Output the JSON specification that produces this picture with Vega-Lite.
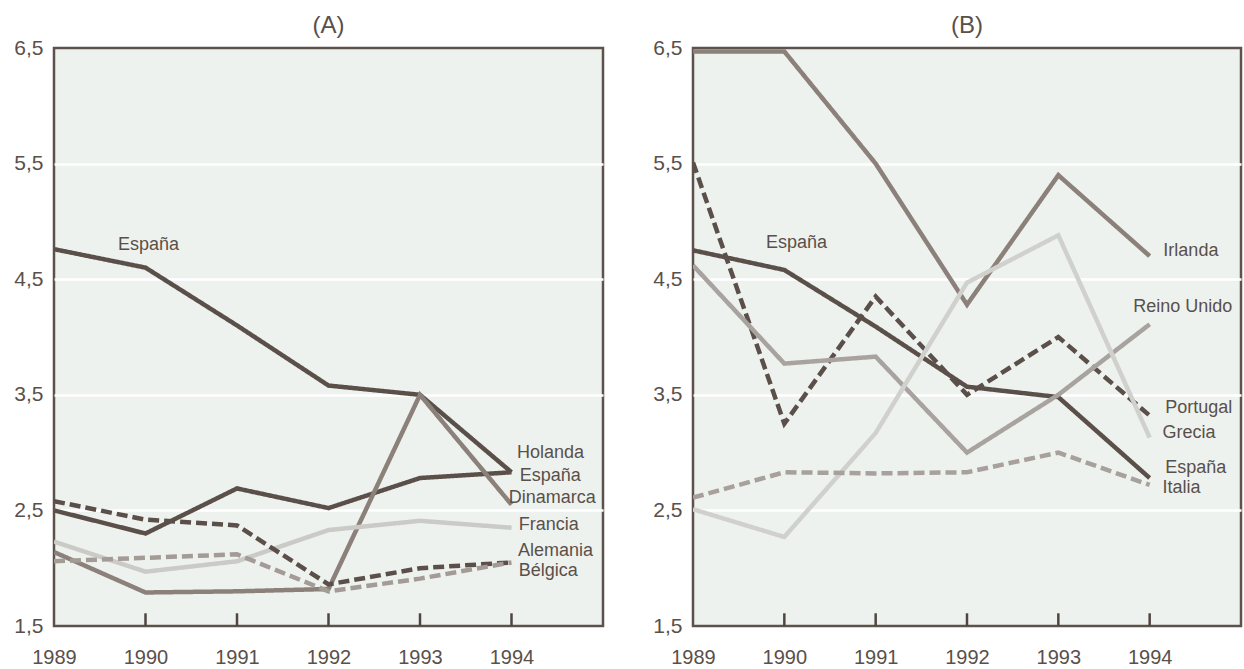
{
  "$schema": "https://vega.github.io/schema/vega-lite/v6.json",
  "padding": {"left": 12, "top": 12, "right": 0, "bottom": 0},
  "background": "white",
  "spacing": 46,
  "datasets": {
    "series": [
      {"panel": "A", "country": "España", "year": 1989, "value": 4.76},
      {"panel": "A", "country": "España", "year": 1990, "value": 4.60},
      {"panel": "A", "country": "España", "year": 1991, "value": 4.10},
      {"panel": "A", "country": "España", "year": 1992, "value": 3.58},
      {"panel": "A", "country": "España", "year": 1993, "value": 3.50},
      {"panel": "A", "country": "España", "year": 1994, "value": 2.83},
      {"panel": "A", "country": "Holanda", "year": 1989, "value": 2.50},
      {"panel": "A", "country": "Holanda", "year": 1990, "value": 2.30},
      {"panel": "A", "country": "Holanda", "year": 1991, "value": 2.69},
      {"panel": "A", "country": "Holanda", "year": 1992, "value": 2.52},
      {"panel": "A", "country": "Holanda", "year": 1993, "value": 2.78},
      {"panel": "A", "country": "Holanda", "year": 1994, "value": 2.83},
      {"panel": "A", "country": "Dinamarca", "year": 1989, "value": 2.14},
      {"panel": "A", "country": "Dinamarca", "year": 1990, "value": 1.79},
      {"panel": "A", "country": "Dinamarca", "year": 1991, "value": 1.80},
      {"panel": "A", "country": "Dinamarca", "year": 1992, "value": 1.82},
      {"panel": "A", "country": "Dinamarca", "year": 1993, "value": 3.50},
      {"panel": "A", "country": "Dinamarca", "year": 1994, "value": 2.55},
      {"panel": "A", "country": "Francia", "year": 1989, "value": 2.23},
      {"panel": "A", "country": "Francia", "year": 1990, "value": 1.97},
      {"panel": "A", "country": "Francia", "year": 1991, "value": 2.06},
      {"panel": "A", "country": "Francia", "year": 1992, "value": 2.33},
      {"panel": "A", "country": "Francia", "year": 1993, "value": 2.41},
      {"panel": "A", "country": "Francia", "year": 1994, "value": 2.35},
      {"panel": "A", "country": "Alemania", "year": 1989, "value": 2.58},
      {"panel": "A", "country": "Alemania", "year": 1990, "value": 2.42},
      {"panel": "A", "country": "Alemania", "year": 1991, "value": 2.37},
      {"panel": "A", "country": "Alemania", "year": 1992, "value": 1.86},
      {"panel": "A", "country": "Alemania", "year": 1993, "value": 2.00},
      {"panel": "A", "country": "Alemania", "year": 1994, "value": 2.05},
      {"panel": "A", "country": "Bélgica", "year": 1989, "value": 2.06},
      {"panel": "A", "country": "Bélgica", "year": 1990, "value": 2.09},
      {"panel": "A", "country": "Bélgica", "year": 1991, "value": 2.12},
      {"panel": "A", "country": "Bélgica", "year": 1992, "value": 1.80},
      {"panel": "A", "country": "Bélgica", "year": 1993, "value": 1.91},
      {"panel": "A", "country": "Bélgica", "year": 1994, "value": 2.05},
      {"panel": "B", "country": "Irlanda", "year": 1989, "value": 6.47},
      {"panel": "B", "country": "Irlanda", "year": 1990, "value": 6.47},
      {"panel": "B", "country": "Irlanda", "year": 1991, "value": 5.50},
      {"panel": "B", "country": "Irlanda", "year": 1992, "value": 4.28},
      {"panel": "B", "country": "Irlanda", "year": 1993, "value": 5.40},
      {"panel": "B", "country": "Irlanda", "year": 1994, "value": 4.70},
      {"panel": "B", "country": "España", "year": 1989, "value": 4.75},
      {"panel": "B", "country": "España", "year": 1990, "value": 4.58},
      {"panel": "B", "country": "España", "year": 1991, "value": 4.09},
      {"panel": "B", "country": "España", "year": 1992, "value": 3.57},
      {"panel": "B", "country": "España", "year": 1993, "value": 3.48},
      {"panel": "B", "country": "España", "year": 1994, "value": 2.78},
      {"panel": "B", "country": "Portugal", "year": 1989, "value": 5.51},
      {"panel": "B", "country": "Portugal", "year": 1990, "value": 3.25},
      {"panel": "B", "country": "Portugal", "year": 1991, "value": 4.35},
      {"panel": "B", "country": "Portugal", "year": 1992, "value": 3.50},
      {"panel": "B", "country": "Portugal", "year": 1993, "value": 4.00},
      {"panel": "B", "country": "Portugal", "year": 1994, "value": 3.32},
      {"panel": "B", "country": "Reino Unido", "year": 1989, "value": 4.62},
      {"panel": "B", "country": "Reino Unido", "year": 1990, "value": 3.77},
      {"panel": "B", "country": "Reino Unido", "year": 1991, "value": 3.83},
      {"panel": "B", "country": "Reino Unido", "year": 1992, "value": 3.00},
      {"panel": "B", "country": "Reino Unido", "year": 1993, "value": 3.50},
      {"panel": "B", "country": "Reino Unido", "year": 1994, "value": 4.11},
      {"panel": "B", "country": "Grecia", "year": 1989, "value": 2.51},
      {"panel": "B", "country": "Grecia", "year": 1990, "value": 2.27},
      {"panel": "B", "country": "Grecia", "year": 1991, "value": 3.17},
      {"panel": "B", "country": "Grecia", "year": 1992, "value": 4.47},
      {"panel": "B", "country": "Grecia", "year": 1993, "value": 4.88},
      {"panel": "B", "country": "Grecia", "year": 1994, "value": 3.13},
      {"panel": "B", "country": "Italia", "year": 1989, "value": 2.61},
      {"panel": "B", "country": "Italia", "year": 1990, "value": 2.83},
      {"panel": "B", "country": "Italia", "year": 1991, "value": 2.82},
      {"panel": "B", "country": "Italia", "year": 1992, "value": 2.83},
      {"panel": "B", "country": "Italia", "year": 1993, "value": 3.00},
      {"panel": "B", "country": "Italia", "year": 1994, "value": 2.72}
    ],
    "labels": [
      {"panel": "A", "text": "España", "x": 1989.70, "y": 4.80},
      {"panel": "A", "text": "Holanda", "x": 1994.06, "y": 3.00},
      {"panel": "A", "text": "España", "x": 1994.09, "y": 2.80},
      {"panel": "A", "text": "Dinamarca", "x": 1993.97, "y": 2.61},
      {"panel": "A", "text": "Francia", "x": 1994.08, "y": 2.37},
      {"panel": "A", "text": "Alemania", "x": 1994.07, "y": 2.15},
      {"panel": "A", "text": "Bélgica", "x": 1994.08, "y": 1.98},
      {"panel": "B", "text": "España", "x": 1989.80, "y": 4.81},
      {"panel": "B", "text": "Irlanda", "x": 1994.15, "y": 4.74},
      {"panel": "B", "text": "Reino Unido", "x": 1993.82, "y": 4.26},
      {"panel": "B", "text": "Portugal", "x": 1994.17, "y": 3.39},
      {"panel": "B", "text": "Grecia", "x": 1994.14, "y": 3.17},
      {"panel": "B", "text": "España", "x": 1994.17, "y": 2.87},
      {"panel": "B", "text": "Italia", "x": 1994.14, "y": 2.69}
    ],
    "tk": [
      {"year": 1990}, {"year": 1991}, {"year": 1992}, {"year": 1993}, {"year": 1994}
    ]
  },
  "hconcat": [
    {
      "width": 549,
      "height": 578,
      "title": {"text": "(A)"},
      "layer": [
        {
          "data": {"name": "series"},
          "transform": [{"filter": "datum.panel == 'A'"}],
          "mark": {"type": "line", "clip": true, "strokeWidth": 4.5},
          "encoding": {
            "x": {"field": "year", "type": "quantitative", "scale": {"domain": [1989, 1995], "nice": false, "zero": false},
              "axis": {"values": [1989, 1990, 1991, 1992, 1993, 1994], "format": "d", "title": null, "grid": false, "domain": false, "ticks": false, "labelPadding": 21, "labelFlush": false, "labelOverlap": false, "labelFontSize": 20, "labelColor": "#5a504a", "labelFont": "Liberation Sans"}},
            "y": {"field": "value", "type": "quantitative", "scale": {"domain": [1.5, 6.5], "nice": false, "zero": false},
              "axis": {"values": [1.5, 2.5, 3.5, 4.5, 5.5, 6.5], "labelExpr": "replace(format(datum.value, '.1f'), '.', ',')", "title": null, "domain": false, "ticks": false, "labelPadding": 11, "labelFontSize": 21, "labelColor": "#5a504a", "labelFont": "Liberation Sans", "grid": true, "gridColor": "#ffffff", "gridWidth": 2.5, "gridOpacity": {"condition": {"test": "datum.value < 2 || datum.value > 6", "value": 0}, "value": 1}}},
            "color": {"field": "country", "type": "nominal", "legend": null,
              "scale": {"domain": ["España", "Holanda", "Dinamarca", "Francia", "Alemania", "Bélgica"], "range": ["#5b4f49", "#5b4f49", "#8b807a", "#cacac6", "#5b4f49", "#a39b96"]}},
            "strokeDash": {"field": "country", "type": "nominal", "legend": null,
              "scale": {"domain": ["España", "Holanda", "Dinamarca", "Francia", "Alemania", "Bélgica"], "range": [[1, 0], [1, 0], [1, 0], [1, 0], [11, 5], [11, 5]]}}
          }
        },
        {
          "data": {"name": "tk"},
          "mark": {"type": "rule", "color": "#4f4640", "strokeWidth": 2.5},
          "encoding": {
            "x": {"field": "year", "type": "quantitative"},
            "y": {"datum": 1.5},
            "y2": {"datum": 1.61}
          }
        },
        {
          "data": {"name": "labels"},
          "transform": [{"filter": "datum.panel == 'A'"}],
          "mark": {"type": "text", "align": "left", "baseline": "middle", "fontSize": 18, "font": "Liberation Sans", "color": "#5a504a"},
          "encoding": {
            "x": {"field": "x", "type": "quantitative"},
            "y": {"field": "y", "type": "quantitative"},
            "text": {"field": "text"}
          }
        }
      ]
    },
    {
      "width": 548,
      "height": 578,
      "title": {"text": "(B)"},
      "layer": [
        {
          "data": {"name": "series"},
          "transform": [{"filter": "datum.panel == 'B'"}],
          "mark": {"type": "line", "clip": true, "strokeWidth": 4.5},
          "encoding": {
            "x": {"field": "year", "type": "quantitative", "scale": {"domain": [1989, 1995], "nice": false, "zero": false},
              "axis": {"values": [1989, 1990, 1991, 1992, 1993, 1994], "format": "d", "title": null, "grid": false, "domain": false, "ticks": false, "labelPadding": 21, "labelFlush": false, "labelOverlap": false, "labelFontSize": 20, "labelColor": "#5a504a", "labelFont": "Liberation Sans"}},
            "y": {"field": "value", "type": "quantitative", "scale": {"domain": [1.5, 6.5], "nice": false, "zero": false},
              "axis": {"values": [1.5, 2.5, 3.5, 4.5, 5.5, 6.5], "labelExpr": "replace(format(datum.value, '.1f'), '.', ',')", "title": null, "domain": false, "ticks": false, "labelPadding": 11, "labelFontSize": 21, "labelColor": "#5a504a", "labelFont": "Liberation Sans", "grid": true, "gridColor": "#ffffff", "gridWidth": 2.5, "gridOpacity": {"condition": {"test": "datum.value < 2 || datum.value > 6", "value": 0}, "value": 1}}},
            "color": {"field": "country", "type": "nominal", "legend": null,
              "scale": {"domain": ["Irlanda", "España", "Portugal", "Reino Unido", "Grecia", "Italia"], "range": ["#8b807a", "#5b4f49", "#5b4f49", "#a9a39f", "#d0d1cd", "#a7a09b"]}},
            "strokeDash": {"field": "country", "type": "nominal", "legend": null,
              "scale": {"domain": ["Irlanda", "España", "Portugal", "Reino Unido", "Grecia", "Italia"], "range": [[1, 0], [1, 0], [11, 5], [1, 0], [1, 0], [11, 5]]}}
          }
        },
        {
          "data": {"name": "tk"},
          "mark": {"type": "rule", "color": "#4f4640", "strokeWidth": 2.5},
          "encoding": {
            "x": {"field": "year", "type": "quantitative"},
            "y": {"datum": 1.5},
            "y2": {"datum": 1.61}
          }
        },
        {
          "data": {"name": "labels"},
          "transform": [{"filter": "datum.panel == 'B'"}],
          "mark": {"type": "text", "align": "left", "baseline": "middle", "fontSize": 18, "font": "Liberation Sans", "color": "#5a504a"},
          "encoding": {
            "x": {"field": "x", "type": "quantitative"},
            "y": {"field": "y", "type": "quantitative"},
            "text": {"field": "text"}
          }
        }
      ]
    }
  ],
  "resolve": {"scale": {"color": "independent", "strokeDash": "independent"}},
  "config": {
    "view": {"fill": "#eef2ef", "stroke": "#5c524c", "strokeWidth": 2.5},
    "font": "Liberation Sans",
    "title": {"fontSize": 24, "fontWeight": "normal", "color": "#5a504a", "font": "Liberation Sans", "offset": -1}
  }
}
